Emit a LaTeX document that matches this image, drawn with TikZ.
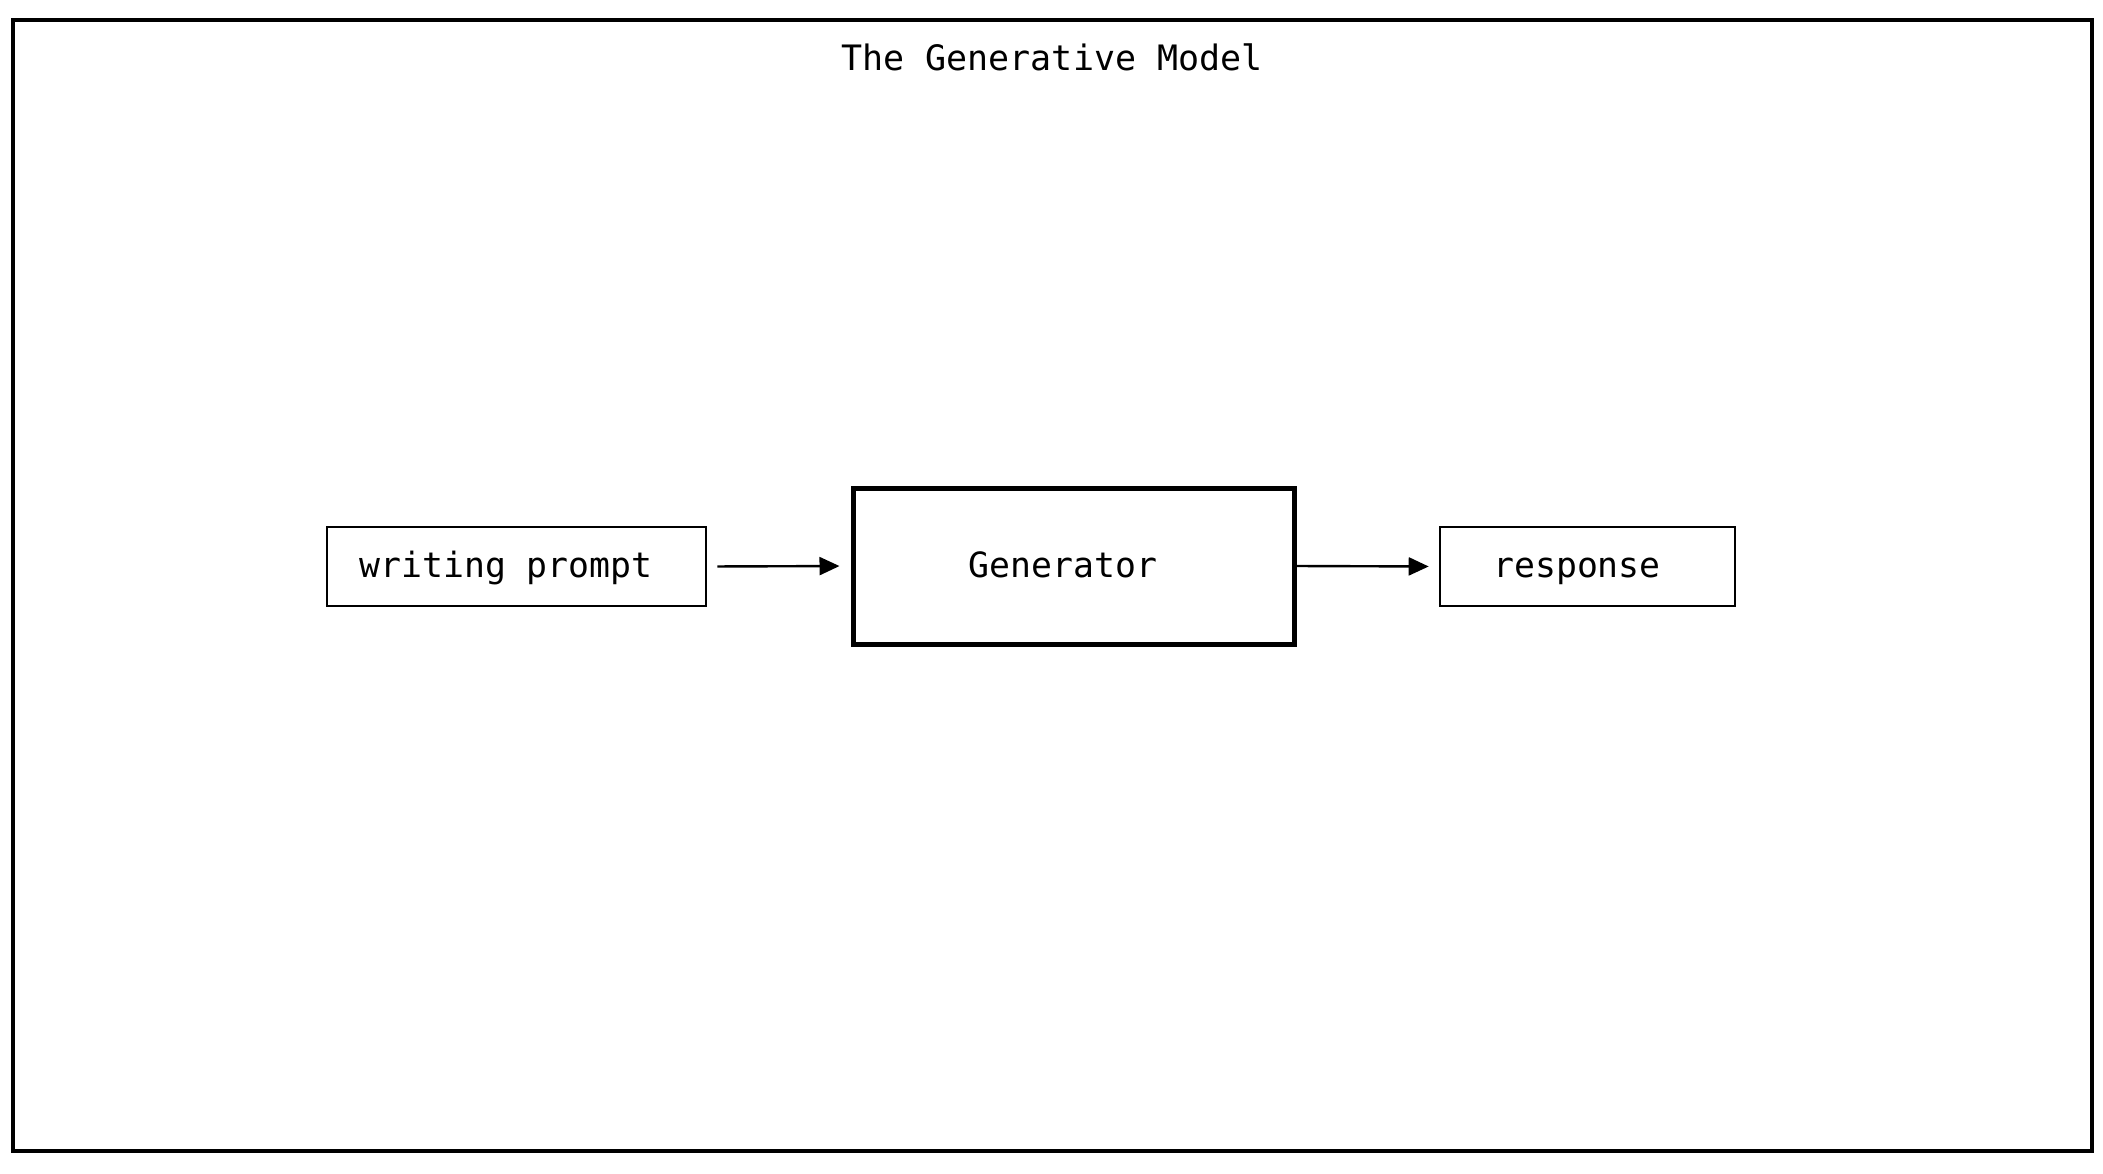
\documentclass[tikz,border=0pt]{standalone}
\usepackage{fontspec}
\setmonofont{DejaVu Sans Mono}
\usetikzlibrary{arrows.meta}
\tikzset{
  box/.style={draw=black, line width=1.3pt, minimum width=189.5pt, minimum height=39.5pt, inner sep=0pt,
    text height=13.5pt, text depth=2.5pt, font=\ttfamily\fontsize{17.4}{20}\selectfont},
  genbox/.style={box, line width=2.5pt},
  conn/.style={line width=1.2pt, -{Triangle[length=10pt,width=9pt]}},
  frame/.style={draw=black, line width=1.6pt}
}
\begin{document}
\begin{tikzpicture}[x=0.5pt,y=-0.5pt]
\useasboundingbox (0,0) rectangle (2103,1173);
\draw[frame] (13,20) rectangle (2092,1151);
\node[anchor=base, font=\ttfamily\fontsize{17.5}{20}\selectfont, inner sep=0pt] (title) at (1052,70) {The Generative Model};
\node[box] (wp) at (516.5,566.5) {writing prompt\hspace*{0.602em}};
\node[genbox, minimum width=220.5pt, minimum height=78pt] (gen) at (1073.5,566) {Generator\hspace*{0.602em}};
\node[box, minimum width=147.5pt] (resp) at (1587.5,566.5) {response\hspace*{0.602em}};
\draw[conn, shorten <=5pt, shorten >=5.5pt] (wp.east) -- (gen.west);
\draw[conn, shorten >=5pt] (gen.east) -- (resp.west);
\end{tikzpicture}
\end{document}
